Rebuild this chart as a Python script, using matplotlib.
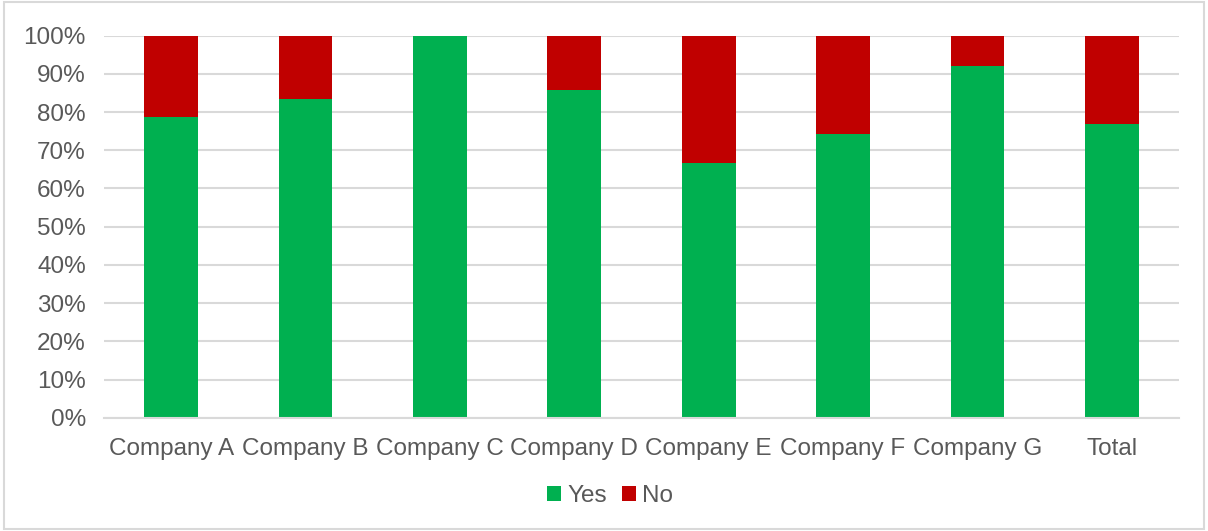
import matplotlib
matplotlib.use("Agg")
import matplotlib.pyplot as plt
from matplotlib.patches import Rectangle, Patch
from matplotlib.ticker import FuncFormatter

categories = ["Company A", "Company B", "Company C", "Company D",
              "Company E", "Company F", "Company G", "Total"]
yes = [78.6, 83.3, 100.0, 85.7, 66.7, 74.3, 92.1, 76.8]
no = [100 - v for v in yes]

GREEN = "#00b050"
RED = "#c00000"
TXT = "#595959"
GRID = "#d9d9d9"

plt.rcParams['font.family'] = ['Liberation Sans', 'DejaVu Sans']

W, H = 1208, 531
fig = plt.figure(figsize=(W / 100, H / 100), dpi=100)
ax = fig.add_axes([104 / W, 1 - 417.7 / H, (1179 - 104) / W, (417.7 - 35.7) / H])

x = range(len(categories))
ax.bar(x, yes, width=0.4, color=GREEN, label="Yes", zorder=3)
ax.bar(x, no, width=0.4, bottom=yes, color=RED, label="No", zorder=3)

ax.set_xlim(-0.5, len(categories) - 0.5)
ax.set_ylim(0, 100)
ax.set_yticks(range(0, 101, 10))
ax.yaxis.set_major_formatter(FuncFormatter(lambda v, p: f"{int(v)}%"))
ax.set_xticks(list(x))
ax.set_xticklabels(categories)
ax.grid(axis='y', color=GRID, linewidth=1.5, zorder=0)
for s in ['top', 'right', 'left']:
    ax.spines[s].set_visible(False)
ax.spines['bottom'].set_color(GRID)
ax.spines['bottom'].set_linewidth(1.5)
ax.spines['bottom'].set_zorder(4)
ax.tick_params(axis='both', length=0, labelsize=17.5, colors=TXT)
ax.tick_params(axis='x', pad=14.5)
ax.tick_params(axis='y', pad=13)

handles = [Patch(facecolor=GREEN, label="Yes"), Patch(facecolor=RED, label="No")]
fig.legend(handles=handles, loc='center', bbox_to_anchor=(610 / W, 1 - 496 / H),
           ncol=2, frameon=False, fontsize=17.5, labelcolor=TXT,
           handlelength=0.6, handleheight=0.6, handletextpad=0.25, columnspacing=0.6)

fig.patches.append(Rectangle((4 / W, 2 / H), (W - 8) / W, (H - 4) / H,
                             transform=fig.transFigure, fill=False,
                             edgecolor=GRID, linewidth=1.5))

fig.savefig("out.png", dpi=100)
